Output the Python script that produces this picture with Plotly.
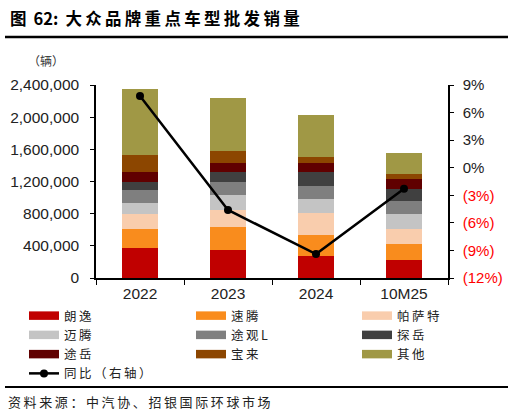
import plotly.graph_objects as go

categories = ["2022", "2023", "2024", "10M25"]
series_names = ["朗逸", "速腾", "帕萨特", "迈腾", "途观L", "探岳", "途岳", "宝来", "其他"]
langyi = [377000, 348000, 278000, 220000]
suteng = [232000, 286000, 261000, 203000]
passat = [182000, 207000, 265000, 187000]
magotan = [141000, 191000, 178000, 182000]
tiguanl = [162000, 158000, 158000, 162000]
tayron = [104000, 129000, 178000, 153000]
tacqua = [120000, 112000, 112000, 129000]
bora = [216000, 149000, 79000, 58000]
others = [817000, 663000, 522000, 257000]
yoy = [7.8, -4.6, -9.4, -2.3]
yoy_name = "同比（右轴）"

series_values = [langyi, suteng, passat, magotan, tiguanl, tayron, tacqua, bora, others]
colors = ["#C00000", "#F98C1D", "#F9CDAD", "#C4C4C4", "#7F7F7F", "#404040",
          "#600000", "#8C4600", "#A09845"]

left_ticks = [0, 400000, 800000, 1200000, 1600000, 2000000, 2400000]
right_ticks = [-12, -9, -6, -3, 0, 3, 6, 9]

SP = "\u2009"


def spaced(s):
    return SP.join(s)


def pct_label(v):
    if v < 0:
        return f"<span style='color:#FF0000'>({abs(v)}%)</span>"
    return f"{v}%"


cjk = "Noto Sans CJK SC"
fig = go.Figure()

for name, vals, col in zip(series_names, series_values, colors):
    fig.add_trace(go.Bar(x=categories, y=vals, name=name, marker_color=col,
                         marker_line_width=0, width=0.41, showlegend=False))

# legend entries (wide swatches), arranged in three columns
legend_cols = {0: "legend", 1: "legend2", 2: "legend3"}
for i, (name, col) in enumerate(zip(series_names, colors)):
    fig.add_trace(go.Scatter(x=[categories[0]], y=[None], mode="lines", name=spaced(name),
                             line=dict(color=col, width=8.5), hoverinfo="skip",
                             legend=legend_cols[i % 3], showlegend=True))

fig.add_trace(go.Scatter(x=categories, y=yoy, name=spaced(yoy_name), yaxis="y2",
                         mode="lines+markers",
                         line=dict(color="black", width=2.5),
                         marker=dict(color="black", size=8),
                         legend="legend"))

leg_common = dict(xref="container", yref="container", yanchor="top", xanchor="left",
                  orientation="v", bgcolor="rgba(0,0,0,0)", traceorder="normal",
                  font=dict(family=cjk, size=12.5, color="#222"),
                  itemwidth=30, tracegroupgap=0)

leg_y = 1 - 301 / 419
fig.update_layout(
    width=513, height=419,
    margin=dict(l=96, r=65, t=85, b=141, autoexpand=False),
    paper_bgcolor="white", plot_bgcolor="white",
    barmode="stack", bargap=0.59,
    font=dict(family="Liberation Sans, Arial", size=13, color="#222"),
    xaxis=dict(type="category", showline=True, linecolor="black", linewidth=2,
               ticks="outside", tickson="boundaries", ticklen=5, tickcolor="black",
               tickangle=0, categoryorder="array", categoryarray=categories,
               tickfont=dict(size=15.5, color="#222"), showgrid=False),
    yaxis=dict(range=[0, 2400000], tickvals=left_ticks,
               ticktext=[f"{v:,}" for v in left_ticks],
               showline=True, linecolor="black", linewidth=1.5,
               ticks="outside", ticklen=4, tickcolor="black", showgrid=False,
               ticklabelstandoff=8,
               zeroline=False, tickfont=dict(size=15.5, color="#222")),
    yaxis2=dict(range=[-12, 9], overlaying="y", side="right",
                tickvals=right_ticks, ticktext=[pct_label(v) for v in right_ticks],
                showline=True, linecolor="black", linewidth=1.5,
                ticks="outside", ticklen=4, tickcolor="black", showgrid=False,
                ticklabelstandoff=6,
                zeroline=False, tickfont=dict(size=15, color="#222")),
    legend=dict(x=24 / 513, y=leg_y, **leg_common),
    legend2=dict(x=191 / 513, y=leg_y, **leg_common),
    legend3=dict(x=357 / 513, y=leg_y, **leg_common),
    showlegend=True,
)

fig.add_annotation(text="<b>图" + SP + " 62:" + SP + " " + spaced("大众品牌重点车型批发销量") + "</b>",
                   xref="paper", yref="paper",
                   x=-88 / 352, y=1 + (85 - 18) / 193, xanchor="left", yanchor="middle",
                   showarrow=False, font=dict(family=cjk, size=16.5, color="black"))
fig.add_annotation(text="（辆）", xref="paper", yref="paper",
                   x=(46 - 96) / 352, y=1 + (85 - 60) / 193, xanchor="center", yanchor="middle",
                   showarrow=False, font=dict(family=cjk, size=12, color="#333"))
fig.add_annotation(text=spaced("资料来源：中汽协、招银国际环球市场"), xref="paper", yref="paper",
                   x=(6 - 96) / 352, y=-(401 - 278) / 193, xanchor="left", yanchor="middle",
                   showarrow=False, font=dict(family=cjk, size=13, color="#222"))

fig.add_shape(type="line", xref="paper", yref="paper",
              x0=(5 - 96) / 352, x1=(508 - 96) / 352,
              y0=1 + (85 - 37) / 193, y1=1 + (85 - 37) / 193,
              line=dict(color="black", width=2.5))
fig.add_shape(type="line", xref="paper", yref="paper",
              x0=(5 - 96) / 352, x1=(508 - 96) / 352,
              y0=-(387 - 278) / 193, y1=-(387 - 278) / 193,
              line=dict(color="black", width=2))

fig.write_html("out.html", config={"displayModeBar": False},
               post_script="document.body.style.margin='0px';")
